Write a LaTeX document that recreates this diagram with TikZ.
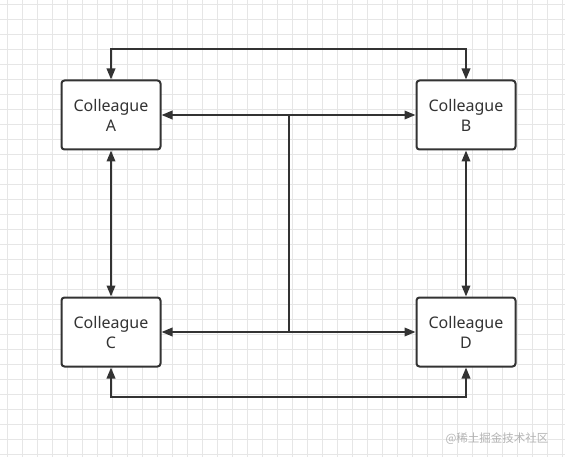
\documentclass[tikz,border=0pt]{standalone}
\usepackage{fontspec}
\setmainfont{Noto Sans}
\newfontfamily\cjk{Noto Sans CJK SC}
\usetikzlibrary{arrows.meta}
\definecolor{ink}{HTML}{333333}
\definecolor{gridc}{HTML}{E6E6E6}
\definecolor{markc}{HTML}{B4B4B4}
\tikzset{
  wire/.style    = {line width=2pt, draw=ink,
                    arrows={Triangle[length=11pt,width=8.5pt]-Triangle[length=11pt,width=8.5pt]}},
  pwire/.style   = {line width=2pt, draw=ink},
  cbox/.style    = {draw=ink, line width=2pt, fill=white, rounded corners=3pt,
                    minimum width=99pt, minimum height=69pt, inner sep=0pt,
                    align=center, text=ink, font=\fontsize{16}{20}\selectfont},
  gline/.style   = {draw=gridc, line width=1pt},
  wmark/.style   = {text=markc, font=\cjk\fontsize{11.5}{14}\selectfont, inner sep=0pt},
}

\begin{document}
\begin{tikzpicture}[x=1pt,y=-1pt]
  \useasboundingbox (0,0) rectangle (565,457);
  \fill[white] (0,0) rectangle (565,457);
  \foreach \gx in {7.5,22.5,...,565} \draw[gline] (\gx,0)--(\gx,457);
  \foreach \gy in {4.5,19.5,...,457} \draw[gline] (0,\gy)--(565,\gy);
  \node[cbox] (a) at (111,115) {Colleague\\A};
  \node[cbox] (b) at (466,115) {Colleague\\B};
  \node[cbox] (c) at (111,332) {Colleague\\C};
  \node[cbox] (d) at (466,332) {Colleague\\D};
  \coordinate (mtop) at (289,115);
  \coordinate (mbot) at (289,332);
  \draw[wire] (a.north)--++(0,-30)-|(b.north);
  \draw[wire] (c.south)--++(0,29)-|(d.south);
  \draw[wire] (a)--(c);
  \draw[wire] (b)--(d);
  \draw[wire] (a)--(b);
  \draw[wire] (c)--(d);
  \draw[pwire] (mtop)--(mbot);
  \node[wmark] (wm) at (497,439) {@稀土掘金技术社区};
\end{tikzpicture}
\end{document}
